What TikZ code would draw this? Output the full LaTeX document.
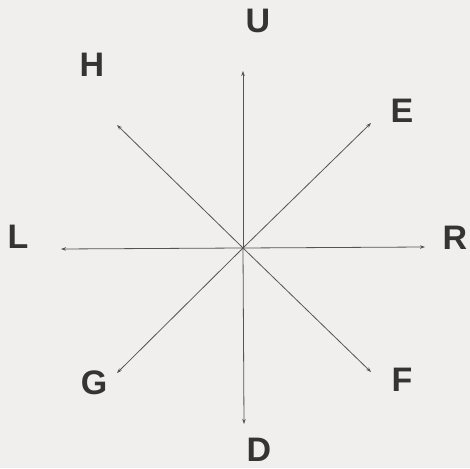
\documentclass[tikz,border=0pt]{standalone}
\usepackage{fontspec}
\setsansfont{Liberation Sans}
\usetikzlibrary{positioning, arrows.meta}

\definecolor{paper}{HTML}{F1EFEE}
\definecolor{ink}{HTML}{353333}
\definecolor{stroke}{HTML}{555353}

\begin{document}
\begin{tikzpicture}[
    x=1pt, y=1pt,
    dir label/.style={
      inner sep=0pt,
      text=ink,
      font=\fontsize{34}{34}\selectfont\sffamily\bfseries
    },
    dir arrow/.style={
      -{Stealth[length=5pt, width=3.5pt]},
      line width=0.8pt,
      color=stroke
    }
  ]

    \fill[paper] (0,0) rectangle (470,468);
    \useasboundingbox (0,0) rectangle (470,468);

    \coordinate (centre) at (243,220);

    % arrow ends
    \coordinate (tipU) at (243,397);
    \coordinate (tipD) at (244,44);
    \coordinate (tipL) at (61,219);
    \coordinate (tipR) at (425,221);
    \coordinate (tipH) at (117,343);
    \coordinate (tipE) at (371,345);
    \coordinate (tipF) at (371,96);
    \coordinate (tipG) at (117,95);

    % letters
    \node[dir label] (labU) at (258,447) {U};
    \node[dir label] (labD) at (259,18) {D};
    \node[dir label] (labL) at (18,231) {L};
    \node[dir label] (labR) at (455,230) {R};
    \node[dir label] (labH) at (92,403) {H};
    \node[dir label] (labE) at (402,357) {E};
    \node[dir label] (labF) at (402,88) {F};
    \node[dir label] (labG) at (94,85) {G};

    \draw[dir arrow] (centre) -- (tipU);
    \draw[dir arrow] (centre) -- (tipD);
    \draw[dir arrow] (centre) -- (tipL);
    \draw[dir arrow] (centre) -- (tipR);
    \draw[dir arrow] (centre) -- (tipH);
    \draw[dir arrow] (centre) -- (tipE);
    \draw[dir arrow] (centre) -- (tipF);
    \draw[dir arrow] (centre) -- (tipG);

  \end{tikzpicture}
\end{document}
